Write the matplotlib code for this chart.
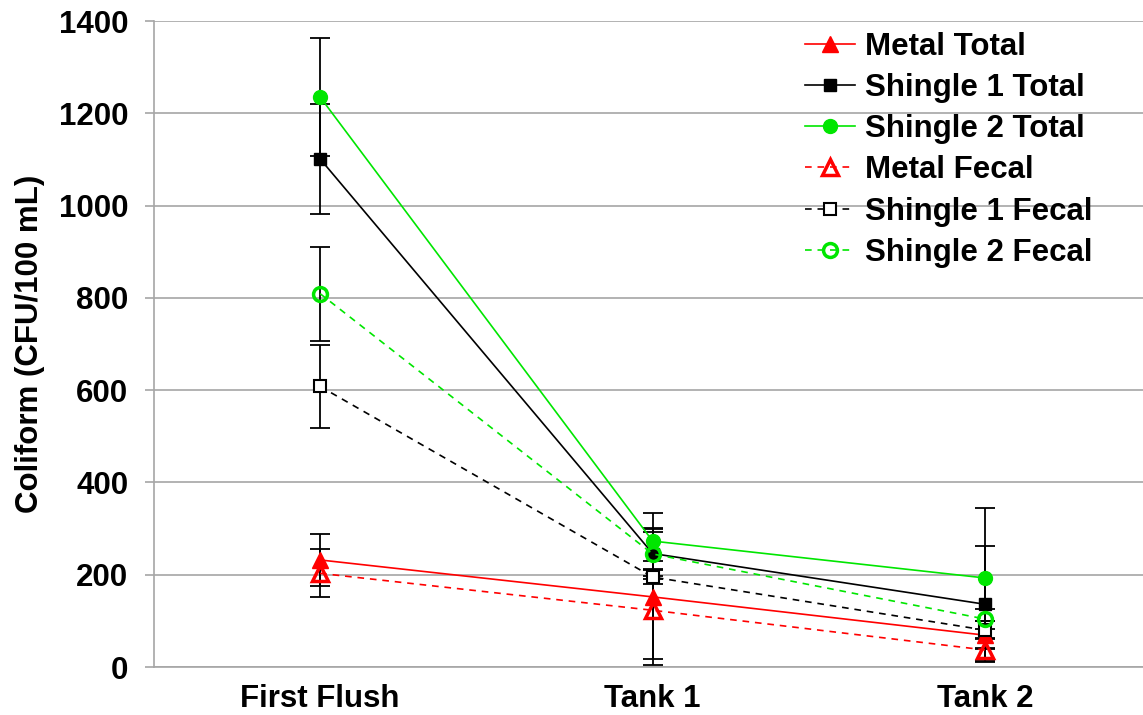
import matplotlib
matplotlib.use("Agg")
from matplotlib import pyplot as plt

plt.rcParams['font.family'] = ['Liberation Sans', 'DejaVu Sans']
plt.rcParams['font.weight'] = 'bold'

stages = ["First Flush", "Tank 1", "Tank 2"]

metal_total = [232, 152, 69]
metal_total_err = [56, 148, 30]
shingle1_total = [1101, 246, 136]
shingle1_total_err = [120, 55, 126]
shingle2_total = [1235, 273, 193]
shingle2_total_err = [128, 60, 151]
metal_fecal = [203, 123, 37]
metal_fecal_err = [52, 106, 25]
shingle1_fecal = [608, 195, 80]
shingle1_fecal_err = [89, 15, 20]
shingle2_fecal = [809, 245, 104]
shingle2_fecal_err = [102, 47, 22]

fig = plt.figure(figsize=(11.43, 7.15), dpi=100)
ax = fig.add_axes([0.1347, 0.0671, 0.8653, 0.9035])

x = list(range(len(stages)))
dash = (0, (4, 3.5))
green = '#00e600'

# (values, errors, color, marker, filled, linestyle, label)
series = [
    (metal_total, metal_total_err, 'red', '^', True, '-', 'Metal Total'),
    (shingle1_total, shingle1_total_err, 'black', 's', True, '-', 'Shingle 1 Total'),
    (shingle2_total, shingle2_total_err, green, 'o', True, '-', 'Shingle 2 Total'),
    (metal_fecal, metal_fecal_err, 'red', '^', False, dash, 'Metal Fecal'),
    (shingle1_fecal, shingle1_fecal_err, 'black', 's', False, dash, 'Shingle 1 Fecal'),
    (shingle2_fecal, shingle2_fecal_err, green, 'o', False, dash, 'Shingle 2 Fecal'),
]

# error bars first, so the markers sit on top
for vals, errs, col, mk, filled, ls, lab in series:
    ax.errorbar(x, vals, yerr=errs, fmt='none', ecolor='black', elinewidth=1.3,
                capsize=7, capthick=1.3, zorder=2)

for vals, errs, col, mk, filled, ls, lab in series:
    size = {'^': 11, 's': 9, 'o': 10}[mk]
    if filled:
        ax.plot(x, vals, color=col, linestyle=ls, linewidth=1.2, marker=mk,
                markersize=size, markerfacecolor=col, markeredgecolor=col,
                label=lab, zorder=3)
    else:
        ax.plot(x, vals, color=col, linestyle=ls, linewidth=1.2, marker=mk,
                markersize=size, markerfacecolor='white' if mk == 's' else 'none',
                markeredgecolor=col, markeredgewidth=1.5 if mk == 's' else 2.5,
                label=lab, zorder=3)

ax.set_xlim(-0.5, 2.475)
ax.set_ylim(0, 1400)
ax.set_yticks(range(0, 1401, 200))
ax.set_xticks(x)
ax.set_xticklabels(stages)
ax.yaxis.grid(True, color='#a6a6a6', linewidth=1.2)
ax.set_axisbelow(True)

for side in ['top', 'right']:
    ax.spines[side].set_visible(False)
ax.spines['left'].set_color('#a6a6a6')
ax.spines['bottom'].set_color('#a6a6a6')
ax.spines['left'].set_linewidth(1.2)
ax.spines['bottom'].set_linewidth(1.2)
ax.tick_params(axis='y', length=6.5, width=1.2, color='#a6a6a6', labelsize=22.5, pad=12)
ax.tick_params(axis='x', length=0, labelsize=22.5, pad=12)

ax.set_ylabel("Coliform (CFU/100 mL)", fontsize=22.5, fontweight='bold', labelpad=10)

ax.legend(loc='upper right', bbox_to_anchor=(0.962, 1.003), frameon=False,
          fontsize=22.5, handlelength=1.6, handletextpad=0.32, labelspacing=0.36,
          borderaxespad=0.0)

fig.savefig("out.png", dpi=100)
